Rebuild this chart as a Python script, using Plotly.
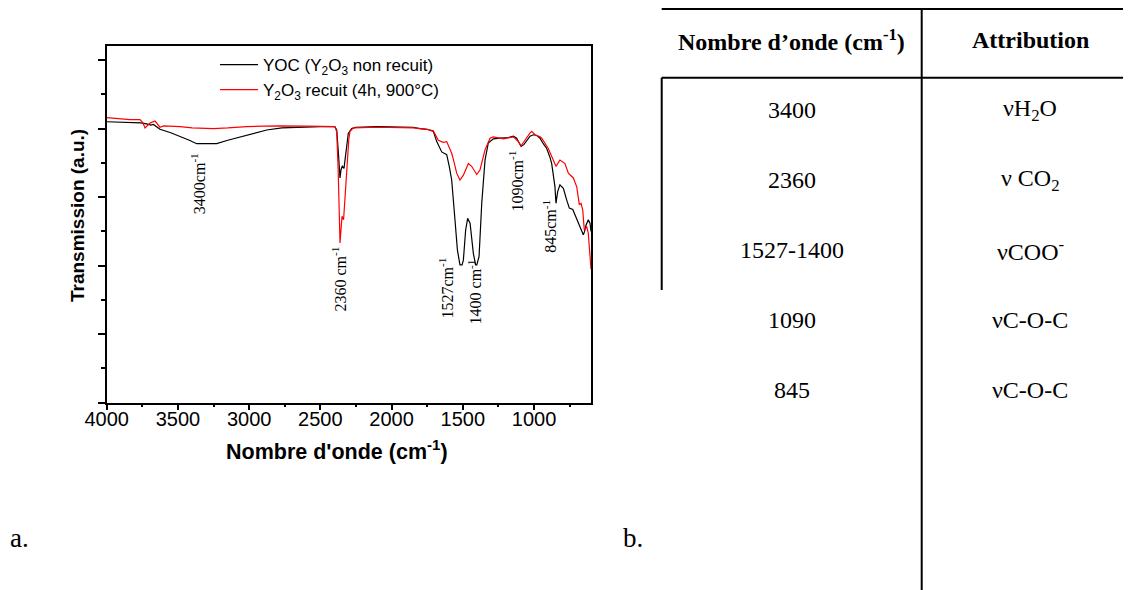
import plotly.graph_objects as go

W, H = 1131, 590

# ---------------- data ----------------
wn_yoc = [4000, 3900, 3760, 3720, 3690, 3672, 3650, 3626, 3550, 3485, 3420, 3368, 3300, 3228, 3150,
          3064, 2970, 2877, 2770, 2666, 2500, 2400, 2385, 2372, 2362, 2355, 2346, 2334, 2320, 2304,
          2280, 2250, 2100, 1964, 1850, 1800, 1750, 1707, 1683, 1648, 1613, 1595, 1578, 1555, 1538,
          1520, 1505, 1496, 1480, 1466, 1449, 1426, 1410, 1402, 1386, 1367, 1344, 1321, 1286, 1239,
          1180, 1145, 1122, 1091, 1070, 1028, 1005, 980, 958, 935, 911, 888, 876, 863, 853,
          846, 840, 834, 818, 794, 771, 752, 728, 700, 665, 654, 645, 635, 619, 607, 600]
t_yoc = [4.10, 4.09, 4.085, 4.07, 4.05, 4.06, 4.02, 3.99, 3.94, 3.89, 3.83, 3.78, 3.775, 3.78, 3.83,
         3.88, 3.93, 3.98, 4.01, 4.02, 4.03, 4.03, 3.98, 3.60, 3.28, 3.40, 3.45, 3.42, 3.70, 3.93,
         4.00, 4.02, 4.03, 4.03, 4.02, 4.00, 3.99, 3.96, 3.81, 3.66, 3.62, 3.45, 3.25, 2.67, 2.23,
         2.01, 2.01, 2.08, 2.52, 2.69, 2.62, 2.18, 2.01, 2.01, 2.13, 2.91, 3.54, 3.79, 3.85, 3.86,
         3.87, 3.89, 3.86, 3.74, 3.77, 3.89, 3.91, 3.90, 3.86, 3.78, 3.71, 3.58, 3.49, 3.30, 3.15,
         2.91, 3.00, 3.08, 3.18, 3.13, 2.96, 2.84, 2.82, 2.67, 2.50, 2.45, 2.50, 2.59, 2.67, 2.62, 2.50]

wn_rec = [4000, 3900, 3836, 3766, 3745, 3731, 3715, 3696, 3661, 3640, 3626, 3600, 3579, 3485, 3400,
          3251, 3150, 3017, 2900, 2783, 2600, 2397, 2385, 2375, 2362, 2355, 2348, 2337, 2328, 2315,
          2300, 2292, 2268, 2100, 1964, 1850, 1753, 1707, 1672, 1637, 1613, 1595, 1578, 1560, 1543,
          1520, 1496, 1461, 1438, 1402, 1379, 1344, 1309, 1286, 1215, 1145, 1110, 1091, 1063, 1030,
          1016, 993, 958, 946, 900, 865, 846, 818, 783, 759, 724, 700, 682, 670, 658,
          647, 630, 619, 604, 600]
t_rec = [4.16, 4.14, 4.13, 4.13, 4.08, 4.01, 4.04, 4.08, 4.11, 4.06, 4.02, 4.04, 4.04, 4.03, 4.01,
         4.00, 4.01, 4.03, 4.035, 4.04, 4.035, 4.03, 3.95, 3.40, 2.33, 2.60, 2.72, 2.67, 3.00, 3.40,
         3.85, 3.96, 4.01, 4.02, 4.02, 4.01, 3.99, 3.97, 3.83, 3.80, 3.81, 3.72, 3.64, 3.50, 3.35,
         3.25, 3.32, 3.49, 3.45, 3.33, 3.40, 3.69, 3.86, 3.88, 3.85, 3.88, 3.81, 3.75, 3.84, 3.93,
         3.96, 3.91, 3.88, 3.86, 3.71, 3.54, 3.45, 3.54, 3.49, 3.35, 3.28, 3.15, 2.89, 2.91, 2.81,
         2.52, 2.57, 2.47, 2.01, 1.95]

series_names = ["YOC (Y<sub>2</sub>O<sub>3</sub> non recuit)",
                "Y<sub>2</sub>O<sub>3</sub> recuit (4h, 900°C)"]

peak_labels = ["3400cm<sup>-1</sup>", "2360 cm<sup>-1</sup>", "1527cm<sup>-1</sup>",
               "1400 cm<sup>-1</sup>", "1090cm<sup>-1</sup>", "845cm<sup>-1</sup>"]
peak_label_x = [3354, 2368, 1616, 1414, 1128, 893]
peak_label_y = [3.20, 1.80, 1.67, 1.61, 3.24, 2.57]

x_tick_vals = [4000, 3500, 3000, 2500, 2000, 1500, 1000]

table_header = ["Nombre d’onde (cm<sup>-1</sup>)", "Attribution"]
table_wavenumbers = ["3400", "2360", "1527-1400", "1090", "845"]
table_attributions = ["νH<sub>2</sub>O", "ν CO<sub>2</sub>", "νCOO<sup>-</sup>", "νC-O-C", "νC-O-C"]

# ---------------- layout helpers ----------------
SANS = "Liberation Sans, Arial, sans-serif"
SERIF = "Liberation Serif, Times New Roman, serif"
OFF = 8  # page body margin offset


def fx(px):
    return (px - OFF) / W


def fy(py):
    return 1 - (py - OFF) / H


PLOT_L, PLOT_R, PLOT_T, PLOT_B = 106.7, 591.0, 45.7, 402.7
TABLE_TOP = 9.0

fig = go.Figure()
fig.add_trace(go.Scatter(x=wn_yoc, y=t_yoc, mode="lines", name=series_names[0],
                         line=dict(color="#000000", width=1.2)))
fig.add_trace(go.Scatter(x=wn_rec, y=t_rec, mode="lines", name=series_names[1],
                         line=dict(color="#ff0000", width=1.2)))

annotations = []
for lab, xv, yv in zip(peak_labels, peak_label_x, peak_label_y):
    annotations.append(dict(x=xv, y=yv, xref="x", yref="y", text=lab, showarrow=False,
                            textangle=-90, font=dict(family=SERIF, size=16, color="black"),
                            xanchor="center", yanchor="middle"))

# axis titles
annotations.append(dict(x=fx(337), y=fy(450), xref="paper", yref="paper",
                        text="<b>Nombre d'onde (cm<sup>-1</sup>)</b>", showarrow=False,
                        font=dict(family=SANS, size=21.5, color="black"),
                        xanchor="center", yanchor="middle"))
annotations.append(dict(x=fx(77), y=fy(216), xref="paper", yref="paper",
                        text="<b>Transmission (a.u.)</b>", showarrow=False, textangle=-90,
                        font=dict(family=SANS, size=19, color="black"),
                        xanchor="center", yanchor="middle"))

# panel labels
annotations.append(dict(x=fx(8), y=fy(538), xref="paper", yref="paper", text="a.",
                        showarrow=False, font=dict(family=SERIF, size=27, color="black"),
                        xanchor="left", yanchor="middle"))
annotations.append(dict(x=fx(621), y=fy(538), xref="paper", yref="paper", text="b.",
                        showarrow=False, font=dict(family=SERIF, size=27, color="black"),
                        xanchor="left", yanchor="middle"))

# table
COL1_X, COL2_X = 791.7, 1030.0
TFONT = 24
annotations.append(dict(x=fx(COL1_X), y=fy(40), xref="paper", yref="paper",
                        text="<b>" + table_header[0] + "</b>", showarrow=False,
                        font=dict(family=SERIF, size=TFONT, color="black"),
                        xanchor="center", yanchor="middle"))
annotations.append(dict(x=fx(COL2_X), y=fy(40), xref="paper", yref="paper",
                        text="<b>" + table_header[1] + "</b>", showarrow=False,
                        font=dict(family=SERIF, size=TFONT, color="black"),
                        xanchor="center", yanchor="middle"))
for i, (wv, at) in enumerate(zip(table_wavenumbers, table_attributions)):
    rowy = 110 + 70 * i
    annotations.append(dict(x=fx(COL1_X), y=fy(rowy), xref="paper", yref="paper", text=wv,
                            showarrow=False, font=dict(family=SERIF, size=TFONT, color="black"),
                            xanchor="center", yanchor="middle"))
    annotations.append(dict(x=fx(COL2_X), y=fy(rowy), xref="paper", yref="paper", text=at,
                            showarrow=False, font=dict(family=SERIF, size=TFONT, color="black"),
                            xanchor="center", yanchor="middle"))

shapes = []
line_style = dict(color="black", width=2)
shapes.append(dict(type="line", xref="paper", yref="paper", x0=fx(661.7), x1=fx(1140),
                   y0=fy(TABLE_TOP), y1=fy(TABLE_TOP), line=line_style))
shapes.append(dict(type="line", xref="paper", yref="paper", x0=fx(661.7), x1=fx(1140),
                   y0=fy(77.7), y1=fy(77.7), line=line_style))
shapes.append(dict(type="line", xref="paper", yref="paper", x0=fx(921.7), x1=fx(921.7),
                   y0=fy(TABLE_TOP), y1=fy(600), line=line_style))
shapes.append(dict(type="line", xref="paper", yref="paper", x0=fx(661.7), x1=fx(661.7),
                   y0=fy(77.7), y1=fy(290), line=line_style))

fig.update_layout(
    width=W, height=H,
    margin=dict(l=0, r=0, t=0, b=0, autoexpand=False),
    paper_bgcolor="white", plot_bgcolor="white",
    showlegend=True,
    legend=dict(x=fx(215), y=fy(47), xanchor="left", yanchor="top",
                bgcolor="rgba(0,0,0,0)", font=dict(family=SANS, size=17, color="black"),
                tracegroupgap=0, itemwidth=38),
    annotations=annotations,
    shapes=shapes,
    xaxis=dict(domain=[fx(PLOT_L), fx(PLOT_R)], range=[4000, 600], automargin=False,
               tickmode="array", tickvals=x_tick_vals,
               ticks="outside", ticklen=6, tickwidth=1.5, tickcolor="black",
               minor=dict(dtick=250, tick0=0, ticks="outside", ticklen=3, tickwidth=1.5,
                          tickcolor="black"),
               showline=True, linecolor="black", linewidth=1.5, mirror=True,
               showgrid=False, zeroline=False, ticklabelstandoff=-8,
               tickfont=dict(family=SANS, size=20, color="black")),
    yaxis=dict(domain=[fy(PLOT_B), fy(PLOT_T)], range=[0, 5.21], automargin=False,
               tickmode="linear", tick0=0, dtick=1, showticklabels=False,
               ticks="outside", ticklen=7, tickwidth=1.5, tickcolor="black",
               minor=dict(dtick=0.5, tick0=0, ticks="outside", ticklen=4, tickwidth=1.5,
                          tickcolor="black"),
               showline=True, linecolor="black", linewidth=1.5, mirror=True,
               showgrid=False, zeroline=False),
)

fig.write_html("out.html")
